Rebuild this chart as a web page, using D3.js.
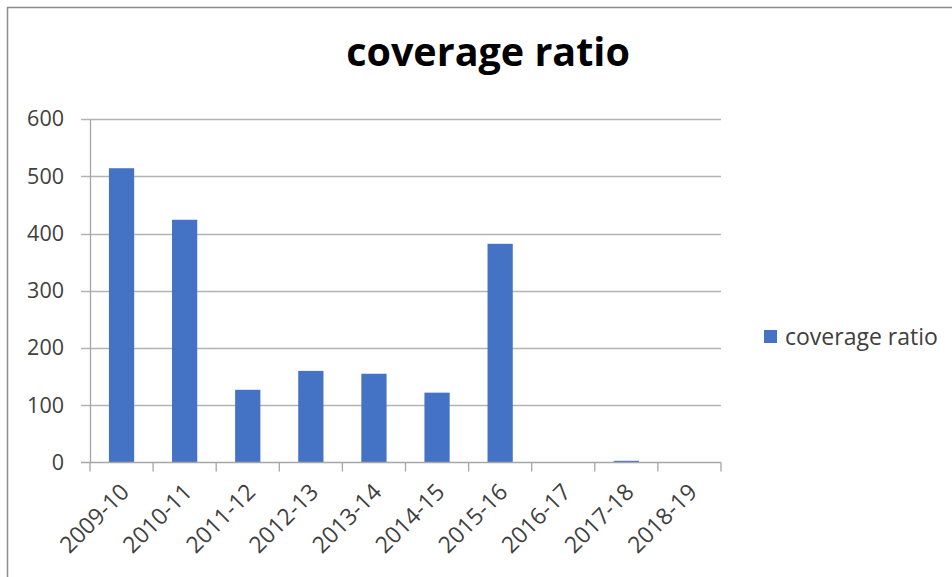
<!DOCTYPE html>
<html>
<head>
<meta charset="utf-8">
<script src="https://cdn.jsdelivr.net/npm/d3@7"></script>
<style>
  html, body { margin: 0; padding: 0; background: #fff; }
  svg { display: block; }
  text { font-family: "Open Sans", Lato, sans-serif; }
</style>
</head>
<body>
<script>
// Coverage ratio by financial year
const years = ["2009-10", "2010-11", "2011-12", "2012-13", "2013-14", "2014-15", "2015-16", "2016-17", "2017-18", "2018-19"];
const coverageRatio = [514, 424, 127, 160, 155, 122, 382, 0, 3, 0];
const yTicks = [0, 100, 200, 300, 400, 500, 600];
const seriesName = "coverage ratio";
const chartTitle = "coverage ratio";

const W = 952, H = 577;
const plot = { left: 90, right: 721, top: 119, bottom: 462.5 };
const barColor = "#4472c4";
const textColor = "#404040";

const svg = d3.select("body").append("svg")
  .attr("width", W).attr("height", H);

// chart frame
svg.append("rect")
  .attr("x", 7.5).attr("y", 7.5)
  .attr("width", W).attr("height", H)
  .attr("fill", "#fff")
  .attr("stroke", "#8c8c8c").attr("stroke-width", 1.5);

const x = d3.scaleBand().domain(years)
  .range([plot.left, plot.right])
  .paddingInner(0.6).paddingOuter(0.3);

const y = d3.scaleLinear().domain([0, 600])
  .range([plot.bottom, plot.top]);

// horizontal gridlines
svg.append("g")
  .selectAll("line")
  .data(yTicks.filter(d => d > 0))
  .join("line")
  .attr("x1", plot.left - 9).attr("x2", plot.right)
  .attr("y1", d => Math.round(y(d)) + 0.5).attr("y2", d => Math.round(y(d)) + 0.5)
  .attr("stroke", "#b3b3b3").attr("stroke-width", 1.3);

// y axis
const yAxis = svg.append("g")
  .attr("transform", `translate(${plot.left},0)`)
  .call(d3.axisLeft(y).tickValues(yTicks).tickSize(0).tickPadding(26));
yAxis.select(".domain").attr("stroke", "#a6a6a6").attr("stroke-width", 1.3);
yAxis.selectAll("text")
  .attr("fill", textColor)
  .style("font-size", "21.5px");

// bars
svg.append("g")
  .selectAll("rect")
  .data(years.map((yr, i) => ({ yr, v: coverageRatio[i] })))
  .join("rect")
  .attr("x", d => x(d.yr))
  .attr("width", x.bandwidth())
  .attr("y", d => y(d.v))
  .attr("height", d => y(0) - y(d.v))
  .attr("fill", barColor);

// x axis: ticks sit at category boundaries
const boundaries = d3.range(years.length + 1).map(i => plot.left + i * (plot.right - plot.left) / years.length);
const xg = svg.append("g");
xg.append("line")
  .attr("x1", plot.left - 9).attr("x2", plot.right)
  .attr("y1", y(0)).attr("y2", y(0))
  .attr("stroke", "#a6a6a6").attr("stroke-width", 1.3);
xg.selectAll("line.tick")
  .data(boundaries)
  .join("line")
  .attr("class", "tick")
  .attr("x1", d => d).attr("x2", d => d)
  .attr("y1", y(0)).attr("y2", y(0) + 9)
  .attr("stroke", "#a6a6a6").attr("stroke-width", 1.3);

xg.selectAll("text")
  .data(years)
  .join("text")
  .attr("transform", d => `translate(${x(d) + x.bandwidth() / 2 + 9},${y(0) + 31}) rotate(-45)`)
  .attr("text-anchor", "end")
  .attr("fill", textColor)
  .style("font-size", "23px")
  .text(d => d);

// title
svg.append("text")
  .attr("x", 488).attr("y", 66)
  .attr("text-anchor", "middle")
  .attr("fill", "#000")
  .style("font-size", "39.5px")
  .style("font-weight", "bold")
  .text(chartTitle);

// legend
const lg = svg.append("g").attr("transform", "translate(764,330)");
lg.append("rect").attr("width", 13).attr("height", 13).attr("fill", barColor);
lg.append("text")
  .attr("x", 21).attr("y", 14.5)
  .attr("fill", textColor)
  .style("font-size", "23px")
  .text(seriesName);
</script>
</body>
</html>
